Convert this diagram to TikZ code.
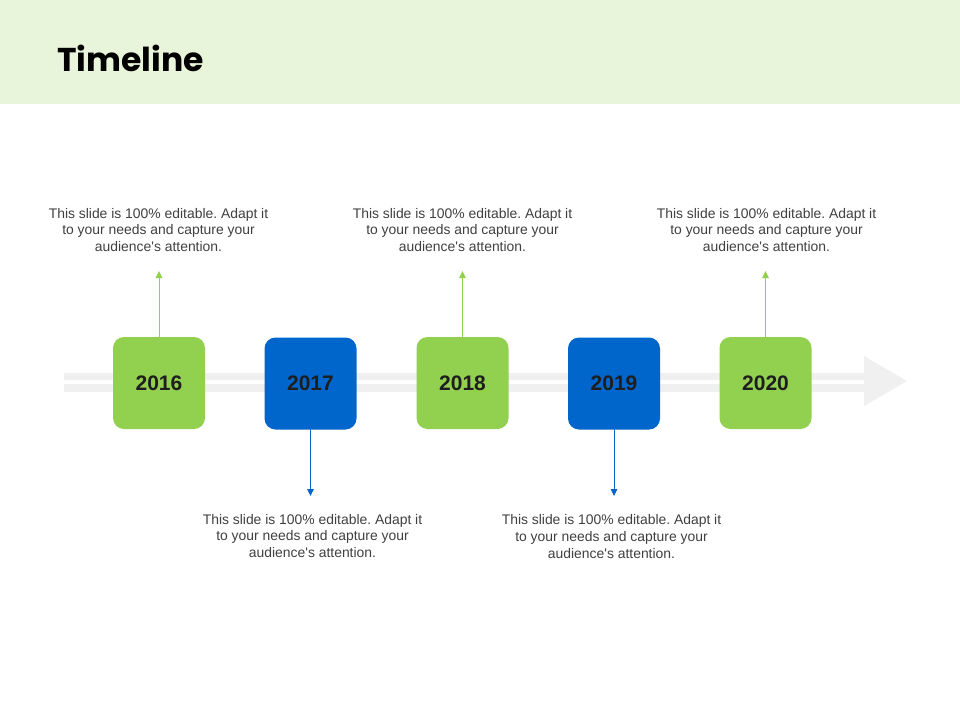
\documentclass[tikz,border=0pt]{standalone}
\usepackage{fontspec}
\setmainfont{Liberation Sans}
\newfontfamily\titlefont{Poppins}
\usetikzlibrary{arrows.meta}
\definecolor{hdr}{HTML}{E9F5DB}
\definecolor{grn}{HTML}{92D050}
\definecolor{blu}{HTML}{0066CC}
\definecolor{bar}{HTML}{F0F0F0}
\definecolor{txt}{HTML}{404040}
\definecolor{yr}{HTML}{1E1E1E}
\frenchspacing
\newcommand{\desctext}{This slide is 100\% editable. Adapt it\\to your needs and capture your\\audience\textquotesingle s attention.}
\tikzset{
  yearbox/.style={rounded corners=11pt, minimum width=92pt, minimum height=92pt,
    inner sep=0pt, font=\fontsize{21}{24}\selectfont\bfseries, text=yr},
  gbox/.style={yearbox, fill=grn},
  bbox/.style={yearbox, fill=blu},
  desc/.style={align=center, text=txt, font=\fontsize{13.9}{16.8}\selectfont, inner sep=0pt},
  garr/.style={draw=grn, line width=0.9pt, -{Triangle[length=7pt,width=6.5pt]}},
  barr/.style={draw=blu, line width=0.9pt, -{Triangle[length=7pt,width=6.5pt]}},
}
\begin{document}
\begin{tikzpicture}[x=1pt,y=-1pt]
\useasboundingbox (0,0) rectangle (960,720);
\fill[white] (0,0) rectangle (960,720);
\fill[hdr] (0,0) rectangle (960,104);
\node[anchor=base west, inner sep=0pt, font=\titlefont\fontsize{33}{40}\selectfont\bfseries] (title) at (57,71) {Timeline};
% bar
\fill[bar] (64,373) rectangle (865,380);
\fill[bar] (64,384) rectangle (865,392);
\fill[bar] (864,356) -- (907,381) -- (864,406) -- cycle;
% boxes
\node[gbox] (y16) at (159,383) {2016};
\node[bbox] (y17) at (310.5,383.5) {\raisebox{-1pt}{2017}};
\node[gbox] (y18) at (462.5,383) {2018};
\node[bbox] (y19) at (614,383.5) {\raisebox{-1pt}{2019}};
\node[gbox] (y20) at (765.5,383) {2020};
% descriptions
\node[desc] (d16) at (158.5,230) {\desctext};
\node[desc] (d18) at (462.5,230) {\desctext};
\node[desc] (d20) at (766.5,230) {\desctext};
\node[desc] (d17) at (312.5,536) {\desctext};
\node[desc] (d19) at (611.5,536.5) {\desctext};
% connectors
\coordinate (u16) at (y16.north |- 0,271);
\coordinate (u18) at (y18.north |- 0,271);
\coordinate (u20) at (y20.north |- 0,271);
\coordinate (w17) at (y17.south |- 0,496);
\coordinate (w19) at (y19.south |- 0,496);
\draw[garr] ([yshift=-4pt]y16.north) -- (u16);
\draw[garr] ([yshift=-4pt]y18.north) -- (u18);
\draw[garr] ([yshift=-4pt]y20.north) -- (u20);
\draw[barr] ([yshift=4pt]y17.south) -- (w17);
\draw[barr] ([yshift=4pt]y19.south) -- (w19);
\end{tikzpicture}
\end{document}
